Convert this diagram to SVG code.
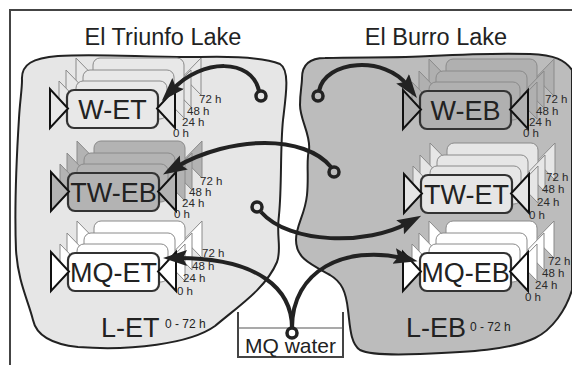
<svg xmlns="http://www.w3.org/2000/svg" xmlns:xlink="http://www.w3.org/1999/xlink" width="572" height="365" viewBox="0 0 572 365">
<style>
  text { font-family: "Liberation Sans", Arial, sans-serif; fill: #222; }
  .title { font-size: 23.5px; text-anchor: middle; }
  .nlabel { font-size: 27px; text-anchor: middle; }
  .time { font-size: 11.5px; fill: #2a2a2a; }
  .lake { font-size: 27px; }
  .sup { font-size: 12px; }
  .conn { fill: none; stroke: #222; stroke-width: 4; }
  .ring { fill: none; stroke: #222; stroke-width: 3.5; }
  .frame { fill: none; stroke: #444; stroke-width: 2; }
</style>
<defs>
  <marker id="arrow" markerUnits="userSpaceOnUse" markerWidth="26" markerHeight="18" refX="9" refY="8" orient="auto">
    <path d="M0,0 L24,8 L0,16 L4,8 z" fill="#222"/>
  </marker>
  <g id="copy">
    <polygon points="-17,0 -17,37 1,18.5" stroke="#8a8a8a" stroke-width="1"/>
    <polygon points="108,0 108,37 90,18.5" stroke="#8a8a8a" stroke-width="1"/>
    <rect x="0" y="0" width="91" height="38" rx="7" stroke="#8a8a8a" stroke-width="1"/>
  </g>
  <g id="stack">
    <use xlink:href="#copy" transform="translate(26,-32)"/>
    <use xlink:href="#copy" transform="translate(16,-20)"/>
    <use xlink:href="#copy" transform="translate(9,-9)"/>
    <rect x="0" y="0" width="91" height="38" rx="7" stroke="#333" stroke-width="2.2"/>
    <polygon points="-17,-1 -17,38 1,18.5" stroke="#111" stroke-width="2"/>
    <polygon points="108,-1 108,38 90,18.5" stroke="#111" stroke-width="2"/>
  </g>
</defs>

<rect x="0" y="0" width="572" height="365" fill="#fff"/>
<path class="frame" d="M10,366 L10,10 L573,10"/>

<g id="lakes">
  <path id="lake-ET" d="M22,80 C21,64 33,58 58,56 C100,53 150,58 200,57 C240,56 268,59 280,64 C290,70 286,95 283,120 C280,150 282,185 279,215 C276,238 282,248 277,262 C266,288 240,305 215,326 C190,344 130,351 78,347 C50,344 36,334 33,320 C28,300 18,282 16,250 C14,200 17,150 19,118 C20,100 22,90 22,80 Z" fill="#e6e6e6" stroke="#222" stroke-width="2"/>
  <path id="lake-EB" d="M302,78 C302,64 310,58 325,58 C360,57 400,58 430,56 C470,54 500,53 530,54 C555,55 565,60 572,70 L572,290 C566,310 552,330 535,338 C510,350 470,352 420,354 C395,355 370,355 360,350 C350,343 350,325 348,310 C346,292 342,282 330,275 C310,264 296,258 296,240 C296,225 305,215 307,195 C309,175 306,160 309,150 C311,135 300,120 300,105 C300,92 302,85 302,78 Z" fill="#bcbcbc" stroke="#222" stroke-width="2"/>
</g>

<g id="titles">
  <text class="title" x="163" y="45">El Triunfo Lake</text>
  <text class="title" x="436" y="45">El Burro Lake</text>
</g>

<g id="node-W-ET">
  <use xlink:href="#stack" transform="translate(67,90)" fill="#e8e8e8"/>
  <text class="nlabel" x="112.5" y="118.5">W-ET</text>
  <text class="time" x="199" y="103">72 h</text>
  <text class="time" x="187" y="115">48 h</text>
  <text class="time" x="182" y="126">24 h</text>
  <text class="time" x="173" y="137">0 h</text>
</g>
<g id="node-TW-EB">
  <use xlink:href="#stack" transform="translate(68,173)" fill="#b3b3b3"/>
  <text class="nlabel" x="113.5" y="201.5">TW-EB</text>
  <text class="time" x="200" y="185">72 h</text>
  <text class="time" x="189" y="196">48 h</text>
  <text class="time" x="182" y="207">24 h</text>
  <text class="time" x="174" y="218">0 h</text>
</g>
<g id="node-MQ-ET">
  <use xlink:href="#stack" transform="translate(68,253)" fill="#ffffff"/>
  <text class="nlabel" x="113.5" y="281.5">MQ-ET</text>
  <text class="time" x="202" y="257">72 h</text>
  <text class="time" x="192" y="270">48 h</text>
  <text class="time" x="183" y="282">24 h</text>
  <text class="time" x="177" y="295">0 h</text>
</g>
<g id="node-W-EB">
  <use xlink:href="#stack" transform="translate(420,91)" fill="#b0b0b0"/>
  <text class="nlabel" x="465.5" y="119.5">W-EB</text>
  <text class="time" x="545" y="103">72 h</text>
  <text class="time" x="536" y="115">48 h</text>
  <text class="time" x="529" y="126">24 h</text>
  <text class="time" x="523" y="137">0 h</text>
</g>
<g id="node-TW-ET">
  <use xlink:href="#stack" transform="translate(421,175)" fill="#e6e6e6"/>
  <text class="nlabel" x="466.5" y="203.5">TW-ET</text>
  <text class="time" x="546" y="181">72 h</text>
  <text class="time" x="542" y="193">48 h</text>
  <text class="time" x="537" y="206">24 h</text>
  <text class="time" x="529" y="219">0 h</text>
</g>
<g id="node-MQ-EB">
  <use xlink:href="#stack" transform="translate(420,253)" fill="#ffffff"/>
  <text class="nlabel" x="465.5" y="281.5">MQ-EB</text>
  <text class="time" x="548" y="265">72 h</text>
  <text class="time" x="542" y="277">48 h</text>
  <text class="time" x="535" y="289">24 h</text>
  <text class="time" x="525" y="301">0 h</text>
</g>

<g id="lake-labels">
  <text class="lake" x="101" y="337">L-ET</text>
  <text class="sup" x="165" y="328">0 - 72 h</text>
  <text class="lake" x="406" y="337">L-EB</text>
  <text class="sup" x="470" y="331">0 - 72 h</text>
</g>

<g id="node-MQ-water">
  <path d="M238,312 L238,357 L343,357 L343,312" fill="none" stroke="#444" stroke-width="2"/>
  <line x1="238" y1="328" x2="343" y2="328" stroke="#555" stroke-width="1.2"/>
  <text x="290.5" y="353" font-size="21" text-anchor="middle">MQ water</text>
</g>

<g id="connectors">
  <path class="conn" d="M259,91 C252,58 202,58 172,90" marker-end="url(#arrow)"/>
  <circle class="ring" cx="261" cy="96" r="5"/>
  <path class="conn" d="M319,91 C325,60 385,55 408,86" marker-end="url(#arrow)"/>
  <circle class="ring" cx="318" cy="96" r="5"/>
  <path class="conn" d="M331,167 C305,135 232,135 176,167" marker-end="url(#arrow)"/>
  <circle class="ring" cx="334" cy="172" r="5"/>
  <path class="conn" d="M261,212 C290,245 368,245 408,223" marker-end="url(#arrow)"/>
  <circle class="ring" cx="257" cy="207" r="5"/>
  <path class="conn" d="M292,328 C292,290 260,258 178,258" marker-end="url(#arrow)"/>
  <path class="conn" d="M292,328 C292,270 345,245 403,258" marker-end="url(#arrow)"/>
  <circle class="ring" cx="292" cy="333" r="5" fill="#fff"/>
</g>
</svg>
